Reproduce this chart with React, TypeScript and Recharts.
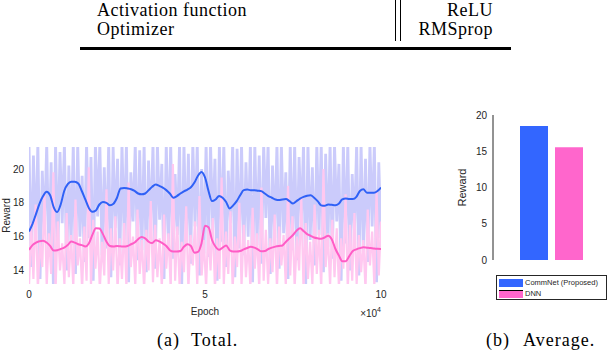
import React from 'react'
import { Bar, BarChart, Label, Legend, Line, LineChart, XAxis, YAxis } from 'recharts'

// smoothed reward per 1e4 epochs, read every 0.1 on the x axis
const commnetSmooth = [
  16.3, 16.75, 17.35, 17.95, 18.4, 18.65, 18.45, 17.75, 17.45, 17.9,
  18.7, 19.1, 19.25, 19.25, 19.14, 18.7, 18.2, 17.7, 17.47, 17.55,
  17.9, 18.05, 18.0, 17.86, 17.95, 18.3, 18.85, 18.88, 18.85, 18.8,
  18.7, 18.55, 18.5, 18.55, 18.75, 18.95, 19.08, 19.0, 18.9, 18.75,
  18.55, 18.3, 18.4, 18.55, 18.68, 18.78, 18.92, 19.2, 19.6, 19.82,
  19.5, 18.7, 18.1, 18.2, 18.41, 18.3, 18.05, 17.67, 17.85, 18.1,
  18.45, 18.75, 18.78, 18.75, 18.75, 18.72, 18.69, 18.55, 18.4, 18.3,
  18.2, 18.16, 18.2, 18.22, 18.1, 17.96, 18.1, 18.25, 18.35, 18.42,
  18.45, 18.3, 18.1, 17.85, 17.82, 17.9, 17.88, 17.86, 17.95, 18.2,
  18.26, 18.22, 18.22, 18.35, 18.7, 18.8, 18.6, 18.6, 18.6, 18.7,
  18.9,
]
const dnnSmooth = [
  15.22, 15.5, 15.65, 15.73, 15.75, 15.65, 15.45, 15.18, 15.2, 15.27,
  15.35, 15.5, 15.71, 15.65, 15.55, 15.5, 15.42, 15.6, 16.1, 16.5,
  16.48, 16.15, 15.71, 15.45, 15.42, 15.45, 15.43, 15.41, 15.45, 15.55,
  15.65, 15.85, 15.98, 15.9, 15.7, 15.62, 15.78, 15.72, 15.6, 15.45,
  15.2, 15.12, 15.12, 15.15, 15.4, 15.55, 15.45, 15.05, 15.1, 15.6,
  16.65, 16.55, 15.8, 15.4, 15.22, 15.35, 15.48, 15.2, 15.12, 15.12,
  15.15, 15.25, 15.33, 15.4, 15.35, 15.25, 15.13, 15.15, 15.27, 15.35,
  15.41, 15.45, 15.48, 15.7, 15.9, 16.1, 16.35, 16.49, 16.33, 16.15,
  16.05, 15.95, 15.9, 15.87, 15.95, 16.06, 15.85, 15.3, 14.9, 14.55,
  14.55, 14.85, 15.15, 15.25, 15.32, 15.37, 15.35, 15.33, 15.3, 15.28,
  15.27,
]

// raw (unsmoothed) episode rewards, drawn faintly behind
const commnetRaw = [
  21.5, 14.2, 20.8, 15.6, 21.5, 13.5, 19.9, 16.2, 21.5, 14.8, 20.4, 13.2, 21.5, 15.1, 21.0, 16.8, 21.5, 14.0, 20.2, 15.5,
  21.5, 13.8, 21.5, 16.0, 19.6, 14.5, 21.5, 15.9, 20.7, 13.4, 21.5, 17.2, 21.5, 14.9, 20.1, 15.3, 21.5, 13.6, 21.3, 16.5,
  20.6, 14.3, 21.5, 15.8, 21.5, 13.3, 19.8, 16.9, 21.5, 14.6, 21.1, 15.2, 21.5, 13.9, 20.5, 16.3, 21.5, 14.1, 21.5, 17.0,
  20.3, 13.5, 21.5, 15.6, 21.5, 14.7, 19.7, 16.1, 21.5, 13.2, 21.5, 15.4, 20.9, 14.4, 21.5, 16.6, 21.5, 13.7, 20.0, 15.0,
  21.5, 14.8, 21.5, 16.4, 20.6, 13.4, 21.5, 15.7, 21.5, 14.2, 19.9, 16.8, 21.5, 13.6, 21.2, 15.3, 21.5, 14.9, 20.4, 16.0,
  21.5, 13.3, 21.5, 15.5, 20.8, 14.4, 21.5, 17.1, 21.5, 13.8, 20.2, 15.9, 21.5, 14.1, 21.5, 16.2, 19.8, 13.5, 21.5, 15.2,
  21.5, 14.6, 20.7, 16.7, 21.5, 13.2, 21.5, 15.8, 20.1, 14.3, 21.5, 16.1, 21.5, 13.9, 20.9, 15.4, 21.5, 14.7, 21.5, 16.9,
  20.3, 13.4, 21.5, 15.6, 21.5, 14.0, 19.7, 16.3, 21.5, 13.7, 21.5, 15.1, 20.6, 14.5, 21.5, 16.6, 21.5, 13.3, 20.4, 15.9,
]
const dnnRaw = [
  13.0, 16.8, 13.5, 17.9, 12.9, 15.8, 14.2, 18.6, 13.1, 16.2, 13.8, 19.8, 12.9, 16.9, 14.0, 15.6, 13.2, 17.4, 13.6, 16.1,
  13.0, 18.2, 14.3, 15.9, 12.9, 16.6, 13.4, 20.1, 13.1, 17.0, 14.1, 16.3, 12.9, 15.7, 13.7, 18.8, 13.2, 16.5, 14.0, 17.2,
  12.9, 15.9, 13.5, 16.8, 13.0, 19.2, 14.2, 16.0, 13.1, 17.6, 13.8, 15.8, 12.9, 16.4, 14.0, 18.1, 13.3, 16.7, 13.6, 15.9,
  13.0, 17.3, 14.1, 16.2, 12.9, 20.3, 13.4, 16.6, 13.2, 15.7, 13.9, 17.8, 12.9, 16.1, 14.3, 16.9, 13.1, 18.4, 13.7, 15.8,
  13.0, 16.5, 14.0, 17.1, 12.9, 15.9, 13.5, 19.5, 13.2, 16.3, 13.8, 17.5, 12.9, 16.0, 14.2, 18.0, 13.1, 16.7, 13.6, 15.8,
  13.0, 17.7, 14.1, 16.2, 12.9, 18.9, 13.4, 16.4, 13.2, 15.9, 13.9, 17.3, 12.9, 16.6, 14.3, 16.1, 13.1, 19.0, 13.7, 17.2,
  13.0, 16.0, 14.0, 18.3, 12.9, 16.8, 13.5, 15.7, 13.2, 17.9, 13.8, 16.4, 12.9, 20.0, 14.2, 16.2, 13.1, 17.0, 13.6, 16.5,
  13.0, 15.9, 14.1, 18.5, 12.9, 16.7, 13.4, 17.4, 13.2, 16.1, 13.9, 15.8, 12.9, 17.6, 14.3, 16.3, 13.1, 18.7, 13.7, 16.9,
]

const epochTicks = [0, 5, 10]
const rewardTicks = [14, 16, 18, 20]

// average reward bar chart
const avgSeries = ['CommNet (Proposed)', 'DNN']
const avgReward = [18.48, 15.54]
const avgTicks = [0, 5, 10, 15, 20]

const smoothRows = commnetSmooth.map((v, i) => ({ epoch: i / 10, commnet: v, dnn: dnnSmooth[i] }))
const rawRows = commnetRaw.map((v, i) => ({
  epoch: (i * 10) / (commnetRaw.length - 1),
  commnet: v,
  dnn: dnnRaw[i],
}))
const barRows = [{ name: 'avg', commnet: avgReward[0], dnn: avgReward[1] }]

const sans = '"Liberation Sans", Arial, Helvetica, sans-serif'
const serif = '"Liberation Serif", "Times New Roman", serif'
const ink = '#262626'
const blue = '#3366ff'
const pink = '#ff66cc'

const tickStyle = { fontSize: 10, fill: ink, fontFamily: sans }

function TotalChart() {
  return (
    <LineChart width={400} height={352} margin={{ top: 147, right: 19, bottom: 0, left: 0 }}>
      <XAxis
        type="number"
        dataKey="epoch"
        domain={[0, 10]}
        ticks={epochTicks}
        interval={0}
        height={68}
        axisLine={false}
        tickLine={false}
        tickSize={0}
        tickMargin={7}
        tick={tickStyle}
        allowDataOverflow
      >
        <Label value="Epoch" position="insideBottom" offset={37} style={{ fontSize: 10, fill: ink, fontFamily: sans }} />
        <Label
          content={({ viewBox }: any) => (
            <text x={viewBox.x + viewBox.width} y={viewBox.y + 33} textAnchor="end" fontSize={10} fill={ink} fontFamily={sans}>
              ×10<tspan dy={-5} fontSize={7}>4</tspan>
            </text>
          )}
        />
      </XAxis>
      <YAxis
        domain={[13.2, 21.3]}
        ticks={rewardTicks}
        width={29}
        axisLine={false}
        tickLine={false}
        tickSize={0}
        tickMargin={5}
        tick={tickStyle}
        allowDataOverflow
      >
        <Label
          value="Reward"
          angle={-90}
          position="insideLeft"
          offset={6}
          style={{ textAnchor: 'middle', fontSize: 10, fill: ink, fontFamily: sans }}
        />
      </YAxis>
      <YAxis
        yAxisId="right"
        orientation="right"
        mirror
        domain={[13.2, 21.3]}
        ticks={rewardTicks}
        width={0}
        axisLine={false}
        tickSize={2}
        tickLine={{ stroke: ink }}
        tickFormatter={() => ''}
        allowDataOverflow
      />
      <Line data={rawRows} dataKey="commnet" stroke="#cbcbfb" strokeWidth={2.8} dot={false} isAnimationActive={false} />
      <Line data={rawRows} dataKey="dnn" stroke="#ffc8f0" strokeWidth={2.2} dot={false} isAnimationActive={false} />
      <Line data={smoothRows} type="monotone" dataKey="commnet" stroke="#2f61f6" strokeWidth={2} dot={false} isAnimationActive={false} />
      <Line data={smoothRows} type="monotone" dataKey="dnn" stroke="#ff5cc6" strokeWidth={2} dot={false} isAnimationActive={false} />
    </LineChart>
  )
}

function BarLegend() {
  const colors = [blue, pink]
  return (
    <div
      style={{
        width: 109,
        height: 23,
        border: `1px solid ${ink}`,
        background: '#fff',
        fontFamily: sans,
        fontSize: 7.5,
        color: ink,
        boxSizing: 'content-box',
      }}
    >
      {avgSeries.map((name, i) => (
        <div key={name} style={{ display: 'flex', alignItems: 'center', height: 11, marginTop: i === 0 ? 1 : 0 }}>
          <span
            style={{
              display: 'inline-block',
              width: 24,
              height: 8,
              marginLeft: 2,
              marginRight: 2,
              background: colors[i],
              borderTop: i === 1 ? '1px solid #000' : 'none',
              boxSizing: 'border-box',
            }}
          />
          <span style={{ whiteSpace: 'nowrap' }}>{name}</span>
        </div>
      ))}
    </div>
  )
}

function AverageChart() {
  return (
    <BarChart width={172} height={210} data={barRows} margin={{ top: 15, right: 2, bottom: 50, left: 0 }} barGap={7}>
      <XAxis dataKey="name" hide />
      <YAxis
        domain={[0, 20]}
        ticks={avgTicks}
        width={53}
        axisLine={{ stroke: ink }}
        tickLine={false}
        tickSize={0}
        tickMargin={6}
        tick={tickStyle}
      >
        <Label
          value="Reward"
          angle={-90}
          position="insideLeft"
          offset={22}
          style={{ textAnchor: 'middle', fontSize: 11, fill: ink, fontFamily: sans }}
        />
      </YAxis>
      <YAxis
        yAxisId="right"
        orientation="right"
        mirror
        domain={[0, 20]}
        ticks={avgTicks}
        width={0}
        axisLine={false}
        tickSize={2}
        tickLine={{ stroke: ink }}
        tickFormatter={() => ''}
      />
      <Legend
        layout="vertical"
        align="center"
        verticalAlign="middle"
        content={() => <BarLegend />}
        wrapperStyle={{ left: 56, top: 175, width: 111, height: 25 }}
      />
      <Bar dataKey="commnet" name={avgSeries[0]} fill={blue} barSize={28} isAnimationActive={false} />
      <Bar dataKey="dnn" name={avgSeries[1]} fill={pink} barSize={28} isAnimationActive={false} />
    </BarChart>
  )
}

const textRow = (top: number): React.CSSProperties => ({
  position: 'absolute',
  top,
  fontFamily: serif,
  fontSize: 18,
  lineHeight: '13px',
  letterSpacing: 0.5,
  color: '#000',
  whiteSpace: 'nowrap',
})

export default function App() {
  return (
    <div
      style={{
        position: 'absolute',
        left: 0,
        top: 0,
        width: 612,
        height: 352,
        overflow: 'hidden',
        background: '#fff',
      }}
    >
      {/* tail of the hyper-parameter table above the figure */}
      <div style={{ ...textRow(3.5), left: 97 }}>Activation function</div>
      <div style={{ ...textRow(23), left: 97 }}>Optimizer</div>
      <div style={{ ...textRow(3.5), right: 612 - 493, textAlign: 'right' }}>ReLU</div>
      <div style={{ ...textRow(23), right: 612 - 493, textAlign: 'right' }}>RMSprop</div>
      <div style={{ position: 'absolute', left: 395, top: 0, width: 1, height: 41, background: '#000' }} />
      <div style={{ position: 'absolute', left: 400, top: 0, width: 1, height: 41, background: '#000' }} />
      <div style={{ position: 'absolute', left: 80, top: 47, width: 431, height: 3, background: '#000' }} />

      <div style={{ position: 'absolute', left: 0, top: 0 }}>
        <TotalChart />
      </div>
      <div style={{ position: 'absolute', left: 440, top: 100 }}>
        <AverageChart />
      </div>

      <div style={{ ...textRow(334), left: 157, letterSpacing: 1 }}>
        <span>(a)</span>
        <span style={{ marginLeft: 11 }}>Total.</span>
      </div>
      <div style={{ ...textRow(334), left: 486, letterSpacing: 1 }}>
        <span>(b)</span>
        <span style={{ marginLeft: 13 }}>Average.</span>
      </div>
    </div>
  )
}
